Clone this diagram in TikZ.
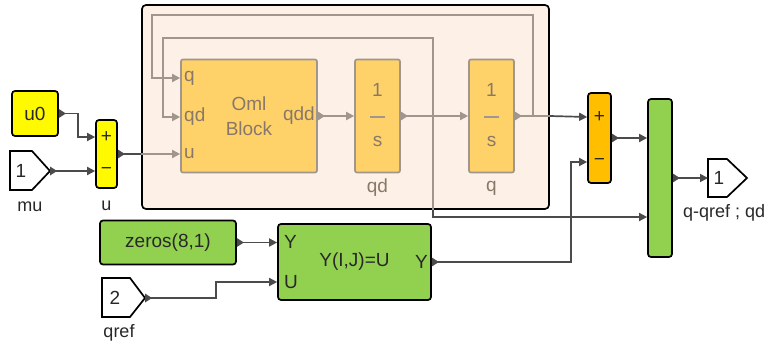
\documentclass[tikz,border=0pt]{standalone}
\usepackage{fontspec}
\setmainfont{Liberation Sans}
\usetikzlibrary{arrows.meta,calc}
\definecolor{ylw}{RGB}{255,250,0}
\definecolor{org}{RGB}{255,190,0}
\definecolor{grn}{RGB}{146,208,80}
\definecolor{oml}{RGB}{255,210,105}
\definecolor{cont}{RGB}{253,240,230}
\definecolor{glin}{RGB}{160,150,142}
\definecolor{gtxt}{RGB}{135,120,105}
\definecolor{dlin}{RGB}{75,75,75}
\definecolor{tdark}{RGB}{40,40,40}
\tikzset{
  ostubd/.pic={\fill[dlin] (0,-4.5pt) -- (7pt,0) -- (0,4.5pt) -- cycle;},
  ostubg/.pic={\fill[glin] (0,-4.5pt) -- (7pt,0) -- (0,4.5pt) -- cycle;},
}
\begin{document}
\begin{tikzpicture}[x=1pt,y=-1pt,
  blk/.style={draw=black, line width=1.7pt, rounded corners=3pt, inner sep=0pt},
  gblk/.style={draw=glin, line width=1.7pt, rounded corners=2pt, fill=oml, inner sep=0pt},
  port/.style={draw=black, line width=1.7pt, fill=white, line join=miter},
  dl/.style={draw=dlin, line width=1.7pt},
  gl/.style={draw=glin, line width=1.7pt},
  ar/.style={-{Triangle[length=8pt,width=8pt]}},
  txt/.style={font=\fontsize{19}{21}\selectfont, text=tdark, inner sep=0pt},
  ltx/.style={font=\fontsize{18}{20}\selectfont, text=tdark, inner sep=0pt},
  gtx/.style={font=\fontsize{19}{21}\selectfont, text=gtxt, inner sep=0pt},
  sgn/.style={font=\fontsize{19}{21}\selectfont, text=tdark, inner sep=0pt},
]
\useasboundingbox (0,0) rectangle (772,345);

% ---------- container ----------
\node[draw=black, line width=1.7pt, rounded corners=4pt, fill=cont,
      minimum width=407pt, minimum height=204pt, inner sep=0pt] (cont) at (345.5,107) {};

% ---------- inner blocks ----------
\node[gblk, minimum width=136pt, minimum height=113pt, font=\fontsize{19}{25}\selectfont,
      text=gtxt, align=center] (omlb) at (249,116) {Oml\\Block};
\node[gtx, anchor=west] (omlq) at (184,78) {q};
\node[gtx, anchor=west] (omlqd) at (184,117) {qd};
\node[gtx, anchor=west] (omlu) at (184,154) {u};
\node[gtx, anchor=east] (omlqdd) at (315,116) {qdd};

\node[gblk, minimum width=45pt, minimum height=113pt] (int1) at (377.5,116) {};
\node[gtx] (i1n) at (377.5,90) {1};
\node[gtx] (i1s) at (377.5,141) {s};
\draw[gl] (370,117) -- (385,117);
\node[gtx] (i1l) at (377.5,188) {qd};

\node[gblk, minimum width=45pt, minimum height=113pt] (int2) at (491.5,116) {};
\node[gtx] (i2n) at (491.5,90) {1};
\node[gtx] (i2s) at (491.5,141) {s};
\draw[gl] (484,117) -- (499,117);
\node[gtx] (i2l) at (491.5,188) {q};

\coordinate (j1) at (433,116);
\coordinate (j2) at (533,116);

% ---------- outer blocks ----------
\node[blk, fill=ylw, minimum width=46pt, minimum height=45pt, txt] (u0) at (35,113.5) {u0};

\draw[port] (10,151) -- (32,151) -- (50,171) -- (32,190) -- (10,190) -- cycle;
\coordinate (mu) at (50,171);
\node[txt] (mun) at (21,171) {1};
\node[ltx] (mul) at (30,207) {mu};

\node[blk, fill=ylw, minimum width=21pt, minimum height=68pt] (sumu) at (106.5,154) {};
\node[sgn] (sump) at (106.5,137) {+};
\node[sgn] (summ) at (106.5,171) {−};
\node[ltx] (sumul) at (106.5,206) {u};

\node[blk, fill=org, minimum width=23pt, minimum height=90pt] (osum) at (599.5,138) {};
\node[sgn] (osp) at (599.5,117) {+};
\node[sgn] (osm) at (599.5,162) {−};

\node[blk, fill=grn, minimum width=24pt, minimum height=158pt] (mux) at (660,178) {};

\draw[port] (708,159) -- (727,159) -- (747,178) -- (727,197) -- (708,197) -- cycle;
\coordinate (o1) at (708,178);
\node[txt] (o1n) at (719,178) {1};
\node[ltx, anchor=west] (o1l) at (683,213) {q-qref ; qd};

\node[blk, fill=grn, minimum width=136pt, minimum height=44pt, txt] (zer) at (168,242.5) {zeros(8,1)};

\node[blk, fill=grn, minimum width=153pt, minimum height=76pt, txt] (asg) at (354.5,262) {Y(I,J)=U};
\node[txt, anchor=west] (asgy) at (284,242) {Y};
\node[txt, anchor=west] (asgu) at (284,282) {U};
\node[txt, anchor=east] (asgo) at (428,262) {Y};

\draw[port] (102,278) -- (130,278) -- (145,298) -- (130,317) -- (102,317) -- cycle;
\coordinate (qr) at (145,298);
\node[txt] (qrn) at (115,298) {2};
\node[ltx] (qrl) at (119,333) {qref};

% ---------- inner connectors ----------
\draw[gl,ar] (omlb.east) -- (int1.west);
\draw[gl,ar] (int1.east) -- (int2.west);
\draw[gl] (int2.east) -- (int2.east -| cont.east);
\draw[gl,ar] (j2) -- (533,15) -| (152,78) -- (omlb.west |- omlq);
\draw[gl,ar] (j1) -- (433,38) -| (163,117) -- (omlb.west |- omlqd);
\draw[gl,ar] (sumu.east -| cont.west) -- (omlb.west |- omlu);
\draw[gl] (j1) -- (j1 |- cont.south);

% ---------- outer connectors ----------
\draw[dl,ar] (u0.east) -- ++(19,0) |- (sumu.west |- sump);
\draw[dl,ar] (mu) -- (sumu.west |- summ);
\draw[dl] (sumu.east) -- (sumu.east -| cont.west);
\draw[dl,ar] (int2.east -| cont.east) -- (osum.west |- osp);
\draw[dl,ar] (j1 |- cont.south) |- ($(mux.west)+(0,39)$);
\draw[dl,ar] (osum.east) -- (mux.west |- osum.east);
\draw[dl,ar] (mux.east) -- (o1);
\draw[dl,ar] (zer.east) -- (asg.west |- zer.east);
\draw[dl,ar] (qr) -- ++(71,0) |- (asg.west |- asgu);
\draw[dl,ar] (asg.east) -| ($(osum.west)+(-16,24)$) -- (osum.west |- osm);

% ---------- output stubs ----------
\pic at (u0.east) {ostubd};
\pic at (mu) {ostubd};
\pic at (sumu.east) {ostubd};
\pic at (omlb.east) {ostubg};
\pic at (int1.east) {ostubg};
\pic at (int2.east) {ostubg};
\pic at (osum.east) {ostubd};
\pic at (mux.east) {ostubd};
\pic at (zer.east) {ostubd};
\pic at (asg.east) {ostubd};
\pic at (qr) {ostubd};
\end{tikzpicture}
\end{document}
